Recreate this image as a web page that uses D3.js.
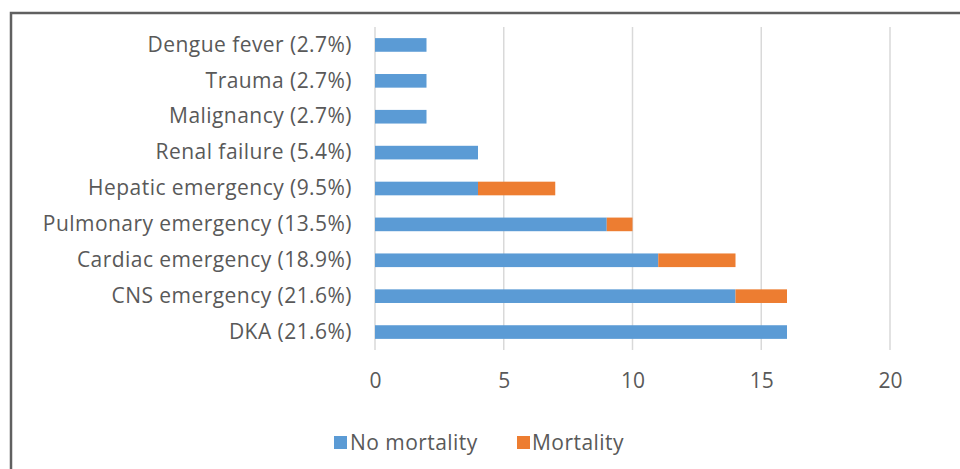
<!DOCTYPE html>
<html>
<head>
<meta charset="utf-8">
<script src="https://cdn.jsdelivr.net/npm/d3@7"></script>
<style>
  html, body { margin: 0; padding: 0; background: #fff; }
  svg { display: block; }
  text { font-family: "Open Sans", "Noto Sans", sans-serif; fill: #595959; }
</style>
</head>
<body>
<svg id="chart" width="960" height="469"></svg>
<script>
// Diagnoses, top to bottom, with share of admissions
const categories = [
  "Dengue fever (2.7%)",
  "Trauma (2.7%)",
  "Malignancy (2.7%)",
  "Renal failure (5.4%)",
  "Hepatic emergency (9.5%)",
  "Pulmonary emergency (13.5%)",
  "Cardiac emergency (18.9%)",
  "CNS emergency (21.6%)",
  "DKA (21.6%)"
];
const noMortality = [2, 2, 2, 4, 4, 9, 11, 14, 16];
const mortality   = [0, 0, 0, 0, 3, 1, 3, 2, 0];
const seriesNames = ["No mortality", "Mortality"];
const seriesColors = ["#5B9BD5", "#ED7D31"];
const xTicks = [0, 5, 10, 15, 20];

const svg = d3.select("#chart");

// outer frame
svg.append("rect")
  .attr("x", 11).attr("y", 13)
  .attr("width", 960).attr("height", 470)
  .attr("fill", "none")
  .attr("stroke", "#606060")
  .attr("stroke-width", 2.5);

const x = d3.scaleLinear().domain([0, 20]).range([375, 890]);
const y = d3.scaleBand().domain(categories).range([27, 350]).paddingInner(0.62).paddingOuter(0.31);

// vertical gridlines
svg.append("g")
  .selectAll("line")
  .data(xTicks)
  .join("line")
  .attr("x1", d => x(d)).attr("x2", d => x(d))
  .attr("y1", 27).attr("y2", 350)
  .attr("stroke", "#D9D9D9")
  .attr("stroke-width", 1.5);

// stacked bars
const rows = categories.map((c, i) => ({ cat: c, vals: [noMortality[i], mortality[i]] }));
const stack = d3.stack().keys([0, 1]).value((d, k) => d.vals[k]);
const layers = stack(rows);

svg.append("g")
  .selectAll("g")
  .data(layers)
  .join("g")
  .attr("fill", (d, i) => seriesColors[i])
  .selectAll("rect")
  .data(d => d)
  .join("rect")
  .attr("x", d => x(d[0]))
  .attr("width", d => x(d[1]) - x(d[0]))
  .attr("y", d => y(d.data.cat))
  .attr("height", y.bandwidth());

// category labels
const yAxis = d3.axisLeft(y).tickSize(0).tickPadding(23);
const gy = svg.append("g").attr("transform", `translate(${x(0)},0)`).call(yAxis);
gy.select(".domain").remove();
gy.selectAll("text")
  .attr("font-size", 21)
  .attr("letter-spacing", 0.45)
  .attr("font-family", "'Open Sans', sans-serif")
  .attr("fill", "#595959");

// value axis labels
const xAxis = d3.axisBottom(x).tickValues(xTicks).tickSize(0).tickPadding(0);
const gx = svg.append("g").attr("transform", `translate(0,373)`).call(xAxis);
gx.select(".domain").remove();
gx.selectAll("text")
  .attr("font-size", 21)
  .attr("font-family", "'Open Sans', sans-serif")
  .attr("fill", "#595959");

// legend
const legendItems = [{ x: 334, tx: 350 }, { x: 517, tx: 532 }];
const lg = svg.append("g");
seriesNames.forEach((name, i) => {
  lg.append("rect")
    .attr("x", legendItems[i].x).attr("y", 436)
    .attr("width", 13).attr("height", 13)
    .attr("fill", seriesColors[i]);
  lg.append("text")
    .attr("x", legendItems[i].tx).attr("y", 450)
    .attr("font-size", 21)
    .attr("letter-spacing", 0.45)
    .text(name);
});
</script>
</body>
</html>
